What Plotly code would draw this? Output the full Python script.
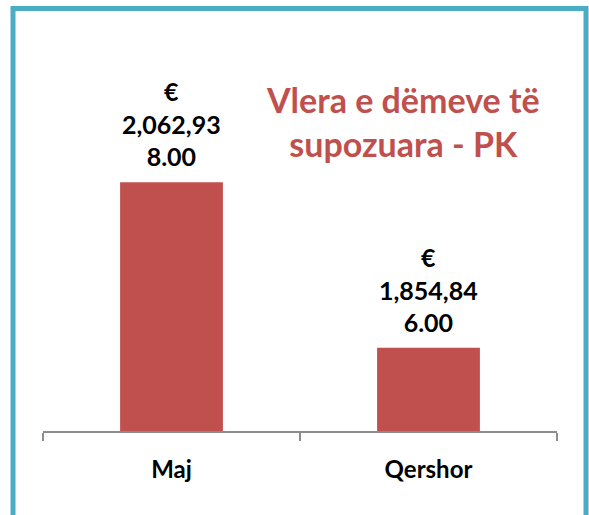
import plotly.graph_objects as go

categories = ["Maj", "Qershor"]
values = [2062938.00, 1854846.00]
title_lines = ["Vlera e dëmeve të", "supozuara - PK"]

BAR_COLOR = "#C0504D"
BORDER_COLOR = "#4BACC6"
AXIS_COLOR = "#8C8C8C"
FONT = "Lato"

W, H = 589, 515
L, R, T, B = 43, 32, 113, 84
pw, ph = W - L - R, H - T - B


def px_x(px):
    return (px - L) / pw


def px_y(py):
    return (H - B - py) / ph


def label(v):
    s = f"{v:,.2f}"
    return f"<b>€<br>{s[:8]}<br>{s[8:]}</b>"


fig = go.Figure()
fig.add_trace(go.Bar(
    x=categories, y=values, marker_color=BAR_COLOR, marker_line_width=0,
    hoverinfo="skip",
))

for c, v in zip(categories, values):
    fig.add_annotation(
        x=c, y=v, xref="x", yref="y", text=label(v), showarrow=False,
        yanchor="bottom", yshift=9,
        font=dict(family=FONT, size=25, color="#000000"),
    )

fig.add_annotation(
    x=px_x(403), y=px_y(121), xref="paper", yref="paper",
    text="<b>" + "<br>".join(title_lines) + "</b>", showarrow=False,
    font=dict(family=FONT, size=34, color=BAR_COLOR),
    xanchor="center", yanchor="middle",
)

fig.add_shape(
    type="rect", xref="paper", yref="paper",
    x0=px_x(13), x1=px_x(586), y0=px_y(540), y1=px_y(8.5),
    line=dict(color=BORDER_COLOR, width=5), fillcolor="rgba(0,0,0,0)",
    layer="above",
)

fig.update_layout(
    width=W, height=H,
    margin=dict(l=L, r=R, t=T, b=B, autoexpand=False),
    paper_bgcolor="white", plot_bgcolor="white",
    bargap=0.6, showlegend=False,
    xaxis=dict(
        showline=True, linecolor=AXIS_COLOR, linewidth=1.5,
        ticks="outside", tickson="boundaries", ticklen=8, tickcolor=AXIS_COLOR,
        tickwidth=1.5, showgrid=False, zeroline=False,
        tickfont=dict(family=FONT, size=24, color="#000000", weight="bold"),
        ticklabelstandoff=16,
    ),
    yaxis=dict(
        range=[1750000, 2150000], visible=False, showgrid=False,
    ),
)

fig.write_html(
    "out.html",
    config={"displayModeBar": False},
    post_script="document.body.style.margin='0';",
)
